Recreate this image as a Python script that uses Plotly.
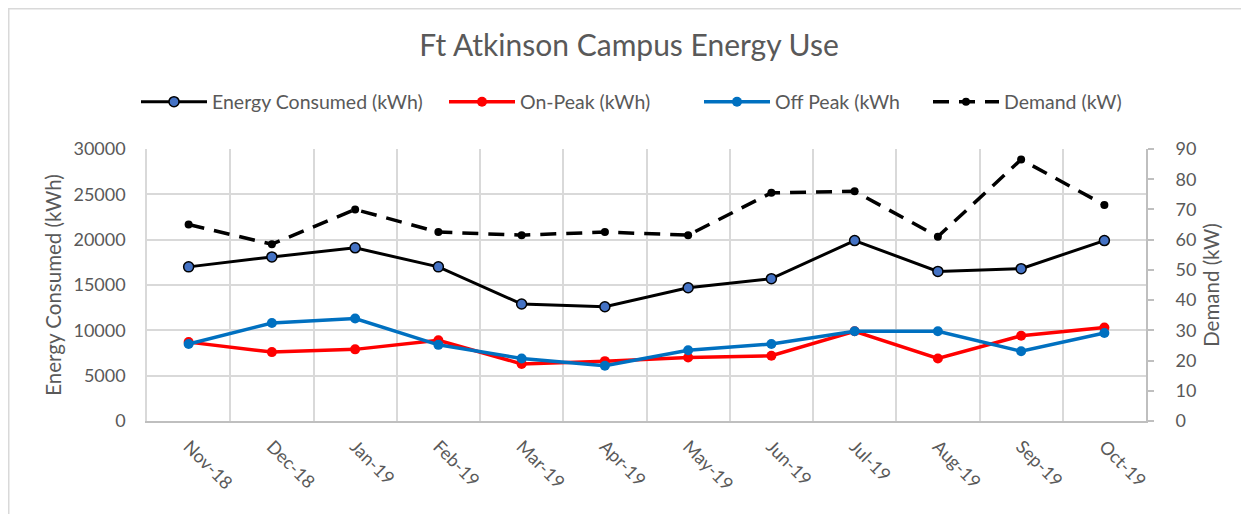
import plotly.graph_objects as go

months = ["Nov-18", "Dec-18", "Jan-19", "Feb-19", "Mar-19", "Apr-19",
          "May-19", "Jun-19", "Jul-19", "Aug-19", "Sep-19", "Oct-19"]
energy_kwh = [17000, 18100, 19100, 17000, 12900, 12600, 14700, 15700, 19900, 16500, 16800, 19900]
onpeak_kwh = [8700, 7600, 7900, 8900, 6300, 6600, 7000, 7200, 9900, 6900, 9400, 10300]
offpeak_kwh = [8500, 10800, 11300, 8400, 6900, 6100, 7800, 8500, 9900, 9900, 7700, 9700]
demand_kw = [65, 58.5, 70, 62.5, 61.5, 62.5, 61.5, 75.5, 76, 61, 86.5, 71.5]

FONT = "Lato"
TXT = "#595959"

# page body has an 8px margin; figure is sized/offset to compensate
W, H = 1241, 506
L, R, T, B = 139, 103, 141, 93
PW = W - L - R  # plot width in px
PH = H - T - B


def px_x(sx):
    """screen x -> paper x"""
    return (sx - 8 - L) / PW


def px_y(sy):
    """screen y -> paper y"""
    return 1 - (sy - 8 - T) / PH


fig = go.Figure()
fig.add_trace(go.Scatter(
    x=months, y=energy_kwh, name="Energy Consumed (kWh)", mode="lines+markers",
    legend="legend",
    line=dict(color="black", width=3),
    marker=dict(size=10, color="#4472C4", line=dict(color="black", width=1.5))))
fig.add_trace(go.Scatter(
    x=months, y=onpeak_kwh, name="On-Peak (kWh)", mode="lines+markers",
    legend="legend2",
    line=dict(color="#FF0000", width=3.5),
    marker=dict(size=10, color="#FF0000")))
fig.add_trace(go.Scatter(
    x=months, y=offpeak_kwh, name="Off Peak (kWh", mode="lines+markers",
    legend="legend3",
    line=dict(color="#0070C0", width=3.5),
    marker=dict(size=10, color="#0070C0")))
fig.add_trace(go.Scatter(
    x=months, y=demand_kw, name="Demand (kW)", mode="lines+markers", yaxis="y2",
    legend="legend4",
    line=dict(color="black", width=3.5, dash="16px,10px"),
    marker=dict(size=8, color="black")))


def leg(sx):
    return dict(orientation="h", x=px_x(sx), xanchor="left", y=px_y(102), yanchor="middle",
                itemwidth=66, font=dict(family=FONT, size=19.5, color=TXT),
                bgcolor="rgba(0,0,0,0)")


fig.update_layout(
    width=W, height=H,
    margin=dict(l=L, r=R, t=T, b=B, autoexpand=False),
    paper_bgcolor="white", plot_bgcolor="white",
    font=dict(family=FONT, color=TXT, size=16),
    title=dict(text="Ft Atkinson Campus Energy Use", x=(629 - 8) / W, xanchor="center",
               y=1 - (45 - 8) / H, yanchor="middle", yref="container",
               font=dict(family=FONT, size=30, color=TXT)),
    showlegend=True,
    legend=leg(136), legend2=leg(444), legend3=leg(699), legend4=leg(928),
    xaxis=dict(type="category", range=[-0.5, 11.5], tickson="boundaries", showgrid=True,
               gridcolor="#D9D9D9", gridwidth=1.5, showline=True, linecolor="#BFBFBF",
               linewidth=2, automargin=False,
               tickangle=45, ticks="", ticklabelstandoff=6,
               tickfont=dict(size=18, color=TXT)),
    yaxis=dict(range=[0, 30000], dtick=5000, tickformat="d", showgrid=True,
               gridcolor="#D9D9D9", gridwidth=1.5, showline=True, linecolor="#D9D9D9",
               linewidth=1.5, zeroline=False, ticks="", ticklabelstandoff=16,
               automargin=False, tickfont=dict(size=18, color=TXT),
               title=dict(text="Energy Consumed (kWh)", standoff=6,
                          font=dict(size=20.5, color=TXT))),
    yaxis2=dict(range=[0, 90], dtick=10, overlaying="y", side="right", showgrid=False,
                showline=True, linecolor="#BFBFBF", linewidth=2, zeroline=False,
                ticks="outside", ticklen=6, tickcolor="#BFBFBF", tickwidth=2,
                ticklabelstandoff=18, automargin=False, tickfont=dict(size=18, color=TXT),
                title=dict(text="Demand (kW)", standoff=9,
                           font=dict(size=20.5, color=TXT))),
    shapes=[dict(type="rect", xref="paper", yref="paper",
                 x0=px_x(8.5), x1=1.5, y0=-1, y1=px_y(8.5),
                 line=dict(color="#D9D9D9", width=2), fillcolor="rgba(0,0,0,0)", layer="below")],
)

fig.write_html("out.html")
